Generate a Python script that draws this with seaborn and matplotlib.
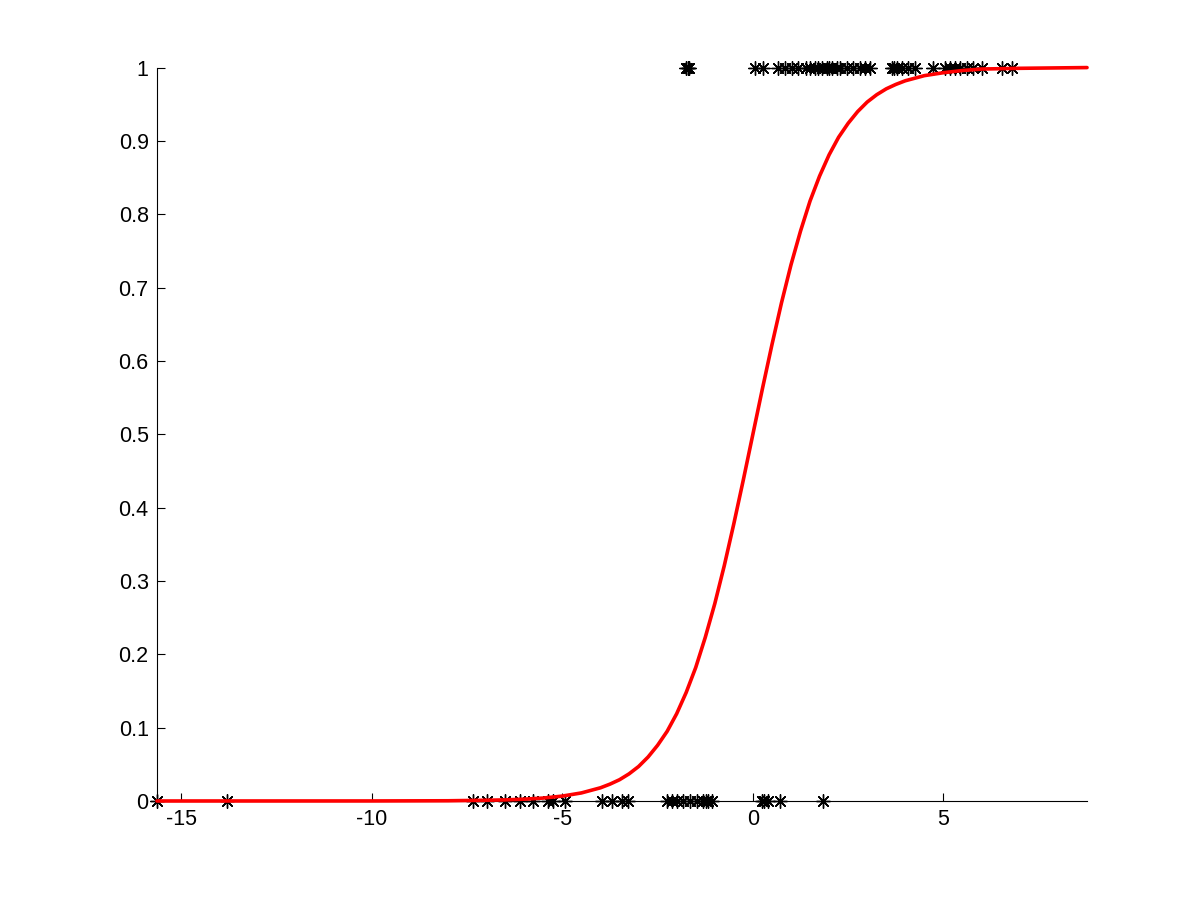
import matplotlib
matplotlib.use("Agg")
import matplotlib.pyplot as plt
import seaborn as sns
import pandas as pd

sns.set_style("white")
plt.rcParams['font.family'] = ['Liberation Sans', 'DejaVu Sans']
plt.rcParams['axes.unicode_minus'] = False

# observed points, class 1 (top row) and class 0 (bottom row)
x_pos = [-1.75, -1.71, -1.68, 0.05, 0.26, 0.66, 0.84, 1.02, 1.18, 1.40, 1.50,
         1.63, 1.70, 1.81, 1.94, 2.00, 2.07, 2.20, 2.28, 2.47, 2.62, 2.81, 2.94,
         3.07, 3.65, 3.70, 3.78, 3.91, 4.07, 4.25, 4.72, 5.04, 5.17, 5.30, 5.43,
         5.62, 5.77, 6.01, 6.54, 6.80]
x_neg = [-15.64, -13.8, -7.35, -6.98, -6.51, -6.12, -5.77, -5.38, -5.25, -4.93,
         -3.96, -3.70, -3.44, -3.28, -2.26, -2.13, -2.00, -1.84, -1.65, -1.47,
         -1.31, -1.22, -1.18, -1.08, 0.24, 0.30, 0.39, 0.71, 1.84]

# fitted curve
curve_x = [-15.64, -10.0, -8.0, -7.0, -6.5, -6.0, -5.5, -5.0, -4.5,
           -4.0, -3.75, -3.5, -3.25, -3.0, -2.75, -2.5, -2.25, -2.0, -1.75,
           -1.5, -1.25, -1.0, -0.75, -0.5, -0.25, 0.0, 0.25, 0.5, 0.75,
           1.0, 1.25, 1.5, 1.75, 2.0, 2.25, 2.5, 2.75, 3.0, 3.25, 3.5, 3.75,
           4.0, 4.5, 5.0, 5.5, 6.0, 7.0, 8.77]
curve_y = [0.0, 0.00005, 0.0003, 0.001, 0.0015, 0.0025, 0.004, 0.0067, 0.011,
           0.018, 0.023, 0.029, 0.037, 0.047, 0.060, 0.076, 0.095, 0.119, 0.148,
           0.182, 0.223, 0.269, 0.321, 0.378, 0.438, 0.500, 0.562, 0.622, 0.679,
           0.731, 0.777, 0.818, 0.852, 0.881, 0.905, 0.924, 0.940, 0.953, 0.963,
           0.971, 0.977, 0.982, 0.989, 0.993, 0.996, 0.998, 0.999, 1.0]

pts = pd.DataFrame({'x': x_pos + x_neg,
                    'y': [1] * len(x_pos) + [0] * len(x_neg)})
curve = pd.DataFrame({'x': curve_x, 'y': curve_y})

fig = plt.figure(figsize=(12.01, 9.01), dpi=100)
ax = fig.add_axes([0.1307, 0.111, 0.7744, 0.814])

sns.lineplot(data=curve, x='x', y='y', color='red', linewidth=2.6, ax=ax,
             sort=False, clip_on=False, zorder=3)
sns.scatterplot(data=pts, x='x', y='y', marker=(8, 2, 0), s=95, color='black',
                linewidth=1.0, ax=ax, clip_on=False, zorder=2)

ax.set_xlim(-15.64, 8.77)
ax.set_ylim(0, 1)
ax.set_xticks([-15, -10, -5, 0, 5])
ax.set_yticks([i / 10 for i in range(11)])
ax.set_yticklabels(['0', '0.1', '0.2', '0.3', '0.4', '0.5', '0.6', '0.7',
                    '0.8', '0.9', '1'])
ax.set_xlabel('')
ax.set_ylabel('')
sns.despine(ax=ax)
for s in ['left', 'bottom']:
    ax.spines[s].set_color('black')
    ax.spines[s].set_linewidth(0.8)
ax.tick_params(direction='in', length=6, width=0.8, labelsize=15.5,
               colors='black', left=True, bottom=True, pad=6)

plt.savefig('out.png', dpi=100)
